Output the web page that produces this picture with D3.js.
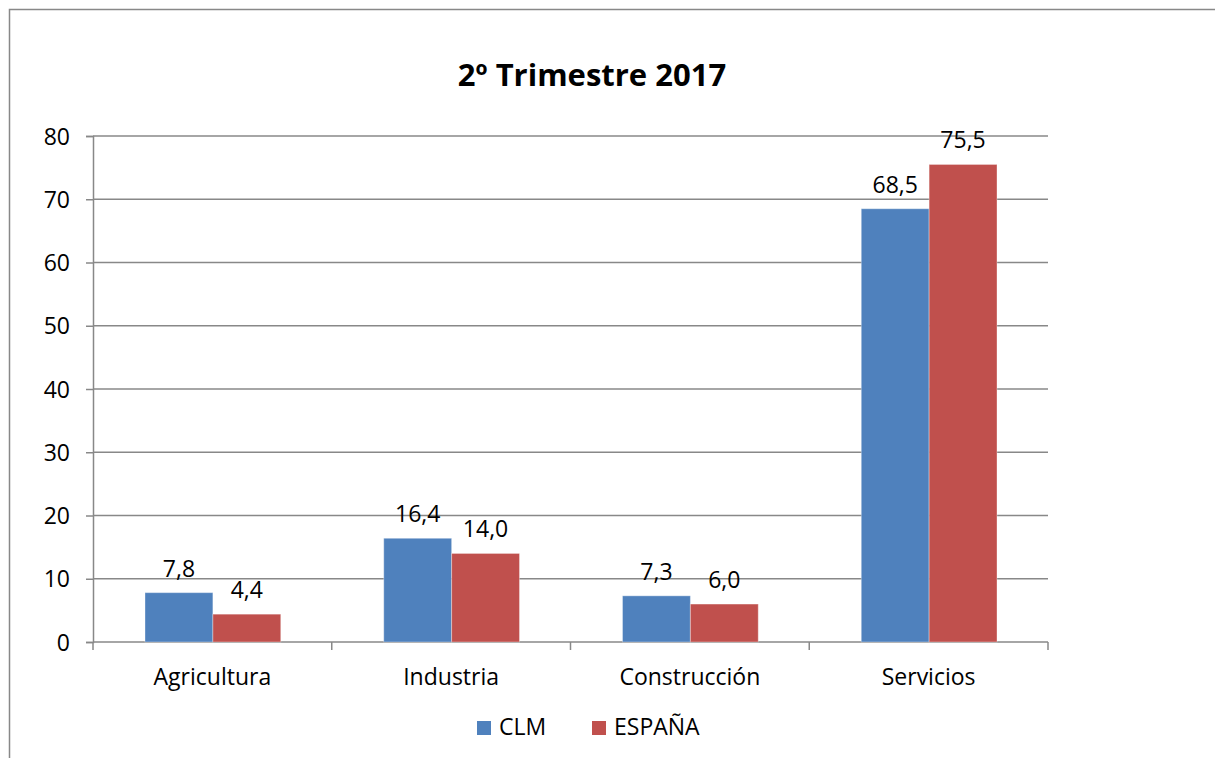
<!DOCTYPE html>
<html>
<head>
<meta charset="utf-8">
<script src="https://cdn.jsdelivr.net/npm/d3@7"></script>
<style>
  body { margin: 0; background: #fff; }
  text { font-family: "Open Sans", Lato, sans-serif; fill: #000; }
</style>
</head>
<body>
<script>
var categories = ['Agricultura', 'Industria', 'Construcción', 'Servicios'];
var seriesNames = ['CLM', 'ESPAÑA'];
var clm = [7.8, 16.4, 7.3, 68.5];
var espana = [4.4, 14.0, 6.0, 75.5];
var yTicks = [0, 10, 20, 30, 40, 50, 60, 70, 80];
var colors = ['#4F81BD', '#C0504D'];

var width = 1215, height = 758;
var margin = { top: 136, right: 167, bottom: 116, left: 93 };
var plotW = width - margin.left - margin.right;
var plotH = height - margin.top - margin.bottom;
var fontSize = '23px';

var svg = d3.select('body').append('svg').attr('width', width).attr('height', height);

// outer chart border (only left and top visible)
svg.append('path')
    .attr('d', 'M9.5,758 L9.5,9.5 L1215,9.5')
    .attr('fill', 'none').attr('stroke', '#888').attr('stroke-width', 1.5);

svg.append('text')
    .attr('x', 592).attr('y', 86)
    .attr('text-anchor', 'middle')
    .style('font-size', '31px').style('font-weight', 'bold')
    .text('2º Trimestre 2017');

var g = svg.append('g').attr('transform', 'translate(' + margin.left + ',' + margin.top + ')');

var x0 = d3.scaleBand().domain(categories).range([0, plotW]).paddingInner(0).paddingOuter(0);
var x1 = d3.scaleBand().domain(seriesNames).range([52, x0.bandwidth() - 51]);
var y = d3.scaleLinear().domain([0, 80]).range([plotH, 0]);

// gridlines
g.selectAll('.grid').data(yTicks.slice(1)).enter().append('line')
    .attr('x1', 0).attr('x2', plotW)
    .attr('y1', function (d) { return y(d); }).attr('y2', function (d) { return y(d); })
    .attr('stroke', '#888').attr('stroke-width', 1.5);

// y axis
var yAxis = g.append('g').call(d3.axisLeft(y).tickValues(yTicks).tickSize(7).tickPadding(16).tickFormat(d3.format('d')));
yAxis.select('.domain').attr('stroke', '#888').attr('stroke-width', 1.5);
yAxis.selectAll('.tick line').attr('stroke', '#888').attr('stroke-width', 1.5);
yAxis.selectAll('text').style('font-size', fontSize).attr('dy', '0.35em');

// x axis
var ticksX = d3.range(categories.length + 1).map(function (i) { return i * x0.bandwidth(); });
g.append('line').attr('x1', 0).attr('x2', plotW).attr('y1', plotH).attr('y2', plotH)
    .attr('stroke', '#888').attr('stroke-width', 1.5);
g.selectAll('.xtick').data(ticksX).enter().append('line')
    .attr('x1', function (d) { return d; }).attr('x2', function (d) { return d; })
    .attr('y1', plotH).attr('y2', plotH + 8)
    .attr('stroke', '#888').attr('stroke-width', 1.5);
g.selectAll('.xlabel').data(categories).enter().append('text')
    .attr('x', function (d) { return x0(d) + x0.bandwidth() / 2; })
    .attr('y', plotH + 43)
    .attr('text-anchor', 'middle')
    .style('font-size', fontSize)
    .text(function (d) { return d; });

// bars
var rows = categories.map(function (c, i) {
    return { cat: c, vals: [{ s: seriesNames[0], v: clm[i] }, { s: seriesNames[1], v: espana[i] }] };
});
var groups = g.selectAll('.cat').data(rows).enter().append('g')
    .attr('transform', function (d) { return 'translate(' + x0(d.cat) + ',0)'; });

groups.selectAll('rect').data(function (d) { return d.vals; }).enter().append('rect')
    .attr('x', function (d) { return x1(d.s); })
    .attr('width', x1.bandwidth())
    .attr('y', function (d) { return y(d.v); })
    .attr('height', function (d) { return plotH - y(d.v); })
    .attr('fill', function (d, i) { return colors[i]; })
    .attr('stroke', '#fff').attr('stroke-opacity', 0.35).attr('stroke-width', 1);

groups.selectAll('.val').data(function (d) { return d.vals; }).enter().append('text')
    .attr('x', function (d) { return x1(d.s) + x1.bandwidth() / 2; })
    .attr('y', function (d) { return y(d.v) - 16; })
    .attr('text-anchor', 'middle')
    .style('font-size', fontSize)
    .text(function (d) { return d3.format('.1f')(d.v).replace('.', ','); });

// legend
var legendX = [477, 592];
var legend = svg.selectAll('.legend').data(seriesNames).enter().append('g')
    .attr('transform', function (d, i) { return 'translate(' + legendX[i] + ',721)'; });
legend.append('rect').attr('width', 14).attr('height', 14)
    .attr('fill', function (d, i) { return colors[i]; });
legend.append('text').attr('x', 22).attr('y', 14)
    .style('font-size', fontSize)
    .text(function (d) { return d; });
</script>
</body>
</html>
